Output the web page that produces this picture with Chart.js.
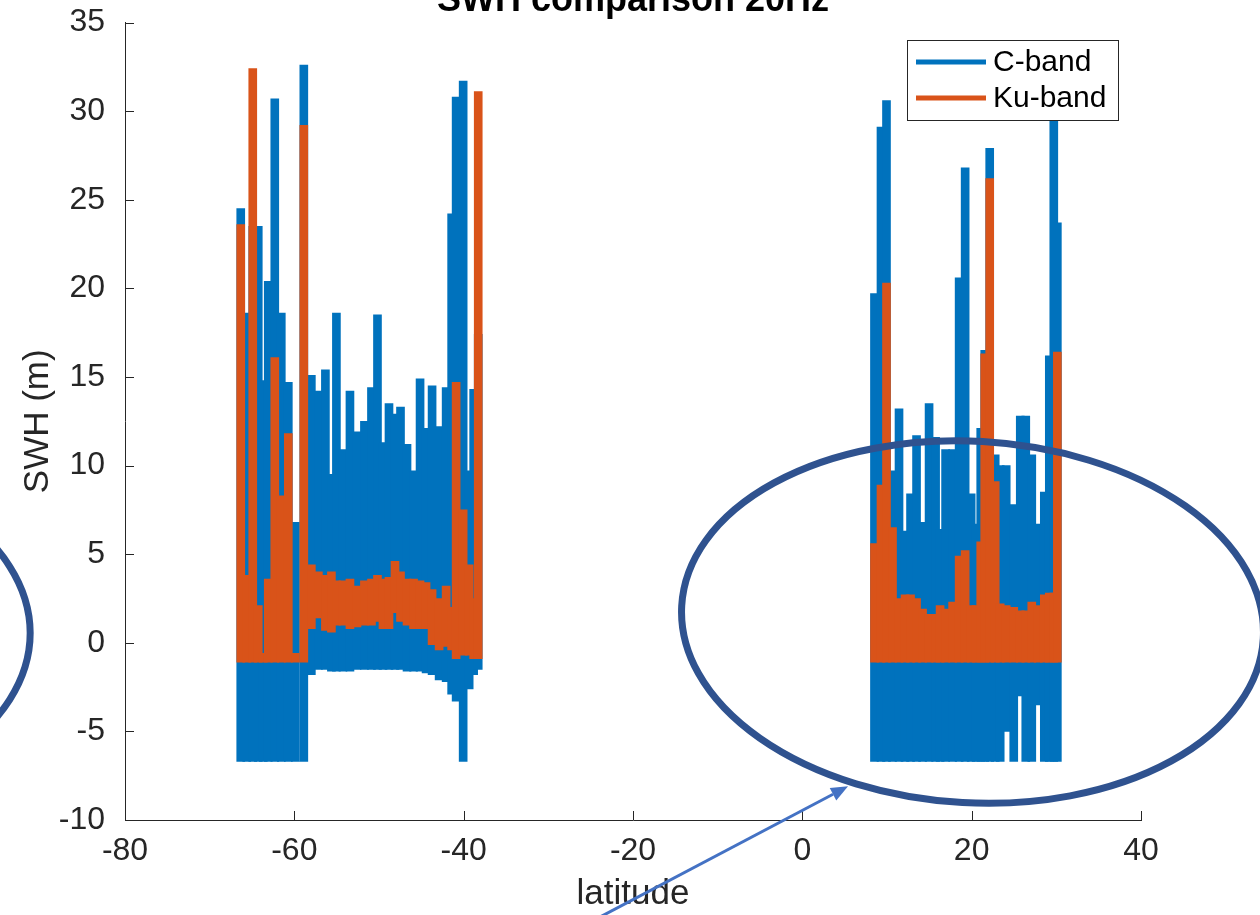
<!DOCTYPE html>
<html>
<head>
<meta charset="utf-8">
<title>SWH comparison 20Hz</title>
<script src="https://cdn.jsdelivr.net/npm/chart.js@4.4.1/dist/chart.umd.min.js"></script>
<style>
    html, body { margin: 0; padding: 0; background: #fff; }
    #chart { display: block; }
</style>
</head>
<body>
<canvas id="chart" width="1260" height="915"></canvas>
<script>
"use strict"

// SWH comparison 20Hz
// the 20Hz track is so dense that it reads as columns:
// for every latitude column, the lowest and highest value the line reaches

const latitude = [
    -66.33, -65.62, -64.91, -64.26, -63.67, -63.08, -62.31, -61.54, -60.71, -59.88,
    -58.88, -57.99, -57.16, -56.33, -55.62, -55.03, -54.26, -53.43, -52.60, -51.72,
    -50.89, -50.18, -49.53, -48.82, -48.11, -47.46, -46.69, -45.92, -45.15, -44.44,
    -43.73, -42.90, -42.07, -41.42, -40.89, -40.06, -39.35, -38.82, -38.28,
    8.52, 9.29, 9.94, 10.65, 11.42, 12.13, 12.78, 13.49, 14.20, 14.97,
    15.74, 16.27, 16.92, 17.75, 18.52, 19.23, 19.94, 20.53, 21.07, 21.54,
    22.13, 22.78, 23.37, 24.08, 24.97, 25.74, 26.39, 27.10, 27.87, 28.58,
    29.17, 29.70, 30.12
];

const cBandLow = [
    -6.7, -6.7, -6.7, -6.7, -6.7, -6.7, -6.7, -6.7, -6.7, -6.7,
    -6.7, -1.8, -1.5, -1.5, -1.6, -1.6, -1.6, -1.6, -1.5, -1.5,
    -1.5, -1.5, -1.5, -1.5, -1.5, -1.5, -1.6, -1.6, -1.6, -1.7,
    -1.8, -2.1, -2.2, -2.9, -3.3, -6.7, -2.6, -1.8, -1.5,
    -6.7, -6.7, -6.7, -6.7, -6.7, -6.7, -6.7, -6.7, -6.7, -6.7,
    -6.7, -6.7, -6.7, -6.7, -6.7, -6.7, -6.7, -6.7, -6.7, -6.7,
    -6.7, -6.7, -6.7, -5.0, -6.7, -3.0, -6.7, -6.7, -3.5, -6.7,
    -6.7, -6.7, -6.7
];
const cBandHigh = [
    24.5, 18.6, 23.5, 23.5, 14.8, 20.4, 30.7, 18.6, 14.7, 6.8,
    32.6, 15.1, 14.2, 15.4, 9.5, 18.6, 10.9, 14.2, 11.9, 12.5,
    14.4, 18.5, 11.3, 13.5, 12.9, 13.3, 11.2, 9.7, 14.9, 12.1,
    14.5, 12.2, 14.4, 24.2, 30.8, 31.7, 9.7, 14.3, 17.4,
    19.7, 29.1, 30.6, 9.7, 13.2, 6.3, 8.4, 11.7, 6.8, 13.5,
    11.6, 6.4, 10.9, 10.9, 20.6, 26.8, 8.4, 6.7, 12.1, 16.5,
    27.9, 10.6, 10.0, 10.0, 7.8, 12.8, 12.8, 10.6, 6.7, 8.5,
    16.2, 29.7, 23.7
];

const kuBandLow = [
    -1.1, -1.1, -1.1, -1.1, -1.1, -1.1, -1.1, -1.1, -1.1, -1.1,
    -1.1, 0.8, 1.4, 0.7, 0.6, 1.0, 1.0, 0.8, 0.9, 1.0,
    1.0, 1.2, 0.8, 0.8, 1.7, 1.2, 1.0, 0.8, 0.8, 0.8,
    -0.1, -0.4, -0.2, -0.4, -0.9, -0.7, -0.7, -0.9, -0.9,
    -1.1, -1.1, -1.1, -1.1, -1.1, -1.1, -1.1, -1.1, -1.1, -1.1,
    -1.1, -1.1, -1.1, -1.1, -1.1, -1.1, -1.1, -1.1, -1.1, -1.1,
    -1.1, -1.1, -1.1, -1.1, -1.1, -1.1, -1.1, -1.1, -1.1, -1.1,
    -1.1, -1.1, -1.1
];
const kuBandHigh = [
    23.6, 3.8, 32.4, 2.1, -0.6, 3.6, 16.1, 8.3, 11.8, -0.6,
    29.2, 4.4, 4.0, 3.8, 4.0, 3.5, 3.5, 3.6, 3.2, 3.5,
    3.6, 3.8, 3.6, 3.7, 4.6, 4.0, 3.6, 3.6, 3.5, 3.4,
    3.0, 2.5, 3.2, 2.0, 14.7, 7.5, 4.4, 2.5, 31.1,
    5.6, 8.9, 20.3, 6.5, 2.5, 2.7, 2.7, 2.5, 1.9, 1.6,
    1.6, 2.1, 1.9, 2.3, 4.9, 5.2, 2.1, 2.1, 5.7, 16.3,
    26.2, 9.1, 2.2, 2.1, 2.0, 1.8, 1.8, 2.3, 2.1, 2.7,
    2.8, 2.8, 16.4
];

const seriesNames = ["C-band", "Ku-band"];

// hand drawn marks on top of the figure, in data units
const ovals = [
    { lat: 20.1, swh: 1.17, rLat: 34.4, rSwh: 10.2, tilt: 0.056 },
    { lat: -125.6, swh: 0.55, rLat: 34.4, rSwh: 10.2, tilt: 0.0 }
];
const arrowFrom = { lat: -24.4, swh: -15.6 };
const arrowTo = { lat: 5.4, swh: -8.1 };


const FONT = "'Liberation Sans', Arial, Helvetica, sans-serif";
const AXIS = "#262626";
const BLUE = "#0072BD";
const ORANGE = "#D95319";


function columns(lows, highs) {
    return latitude.map((lat, i) => ({ x: lat, y: [lows[i], highs[i]] }));
}


// inward ticks, title, legend box and the annotation marks
const figureExtras = {
    id: "figureExtras",
    afterDraw(chart) {
        const ctx = chart.ctx;
        const xs = chart.scales.x;
        const ys = chart.scales.y;
        const area = chart.chartArea;
        const tickLen = 9;

        ctx.save();

        // ticks point into the plot, matlab style
        ctx.strokeStyle = AXIS;
        ctx.lineWidth = 1;
        ctx.beginPath();
        xs.ticks.forEach(t => {
            const px = Math.round(xs.getPixelForValue(t.value)) + 0.5;
            ctx.moveTo(px, area.bottom);
            ctx.lineTo(px, area.bottom - tickLen);
        });
        ys.ticks.forEach(t => {
            const py = Math.round(ys.getPixelForValue(t.value)) + 0.5;
            ctx.moveTo(area.left, py);
            ctx.lineTo(area.left + tickLen, py);
        });
        ctx.stroke();

        // title sits half off the top edge
        ctx.fillStyle = "#000";
        ctx.font = "bold 36px " + FONT;
        ctx.textAlign = "center";
        ctx.textBaseline = "alphabetic";
        ctx.fillText("SWH comparison 20Hz", (area.left + area.right) / 2, 11);

        // legend
        const box = { x: 907.5, y: 40.5, w: 211, h: 80 };
        ctx.fillStyle = "#fff";
        ctx.fillRect(box.x, box.y, box.w, box.h);
        ctx.strokeStyle = AXIS;
        ctx.lineWidth = 1;
        ctx.strokeRect(box.x, box.y, box.w, box.h);
        chart.data.datasets.forEach((ds, i) => {
            const ly = 62 + i * 36;
            ctx.strokeStyle = ds.backgroundColor;
            ctx.lineWidth = 5;
            ctx.beginPath();
            ctx.moveTo(916, ly);
            ctx.lineTo(986, ly);
            ctx.stroke();
            ctx.fillStyle = "#000";
            ctx.font = "30px " + FONT;
            ctx.textAlign = "left";
            ctx.textBaseline = "middle";
            ctx.fillText(seriesNames[i], 993, ly + 1);
        });

        // ovals
        ctx.strokeStyle = "#2F528F";
        ctx.lineWidth = 7;
        ovals.forEach(o => {
            const cx = xs.getPixelForValue(o.lat);
            const cy = ys.getPixelForValue(o.swh);
            const rx = Math.abs(xs.getPixelForValue(o.lat + o.rLat) - cx);
            const ry = Math.abs(ys.getPixelForValue(o.swh + o.rSwh) - cy);
            ctx.beginPath();
            ctx.ellipse(cx, cy, rx, ry, o.tilt, 0, Math.PI * 2);
            ctx.stroke();
        });

        // arrow
        const ax0 = xs.getPixelForValue(arrowFrom.lat);
        const ay0 = ys.getPixelForValue(arrowFrom.swh);
        const ax1 = xs.getPixelForValue(arrowTo.lat);
        const ay1 = ys.getPixelForValue(arrowTo.swh);
        const ang = Math.atan2(ay1 - ay0, ax1 - ax0);
        const headLen = 17;
        const headW = 7;
        const bx = ax1 - headLen * Math.cos(ang);
        const by = ay1 - headLen * Math.sin(ang);
        ctx.strokeStyle = "#4472C4";
        ctx.fillStyle = "#4472C4";
        ctx.lineWidth = 3;
        ctx.beginPath();
        ctx.moveTo(ax0, ay0);
        ctx.lineTo(bx, by);
        ctx.stroke();
        ctx.beginPath();
        ctx.moveTo(ax1, ay1);
        ctx.lineTo(bx + headW * Math.sin(ang), by - headW * Math.cos(ang));
        ctx.lineTo(bx - headW * Math.sin(ang), by + headW * Math.cos(ang));
        ctx.closePath();
        ctx.fill();

        ctx.restore();
    }
};


let data = {
    datasets: [{
        label: seriesNames[0],
        data: columns(cBandLow, cBandHigh),
        backgroundColor: BLUE,
        order: 1
    }, {
        label: seriesNames[1],
        data: columns(kuBandLow, kuBandHigh),
        backgroundColor: ORANGE,
        order: 0
    }]
};

let config = {
    type: "bar",
    data: data,
    options: {
        responsive: false,
        animation: false,
        events: [],
        devicePixelRatio: 1,
        datasets: {
            bar: {
                grouped: false,
                barThickness: 8,
                borderWidth: 0
            }
        },
        layout: {
            padding: { left: 0, right: 119, top: 0, bottom: 0 }
        },
        plugins: {
            legend: { display: false },
            tooltip: { enabled: false },
            title: { display: false }
        },
        scales: {
            x: {
                type: "linear",
                min: -80,
                max: 40,
                offset: false,
                grid: { display: false },
                border: { display: true, color: AXIS, width: 1 },
                ticks: {
                    stepSize: 20,
                    color: AXIS,
                    padding: 4,
                    maxRotation: 0,
                    font: { family: FONT, size: 32 }
                },
                title: {
                    display: true,
                    text: "latitude",
                    color: AXIS,
                    padding: 0,
                    font: { family: FONT, size: 35 }
                },
                afterFit(scale) { scale.height = 95; }
            },
            y: {
                min: -10,
                max: 35,
                grid: { display: false },
                border: { display: true, color: AXIS, width: 1 },
                ticks: {
                    stepSize: 5,
                    color: AXIS,
                    padding: 12,
                    // short line height keeps the top label from pushing the plot down
                    font: { family: FONT, size: 32, lineHeight: 0.66 }
                },
                title: {
                    display: true,
                    text: "SWH (m)",
                    color: AXIS,
                    padding: { top: 17, bottom: 0 },
                    font: { family: FONT, size: 35 }
                },
                afterFit(scale) { scale.width = 125; }
            }
        }
    },
    plugins: [figureExtras]
};

let ctx = document.querySelector("#chart");
let swhChart = new Chart(ctx, config);
</script>
</body>
</html>
